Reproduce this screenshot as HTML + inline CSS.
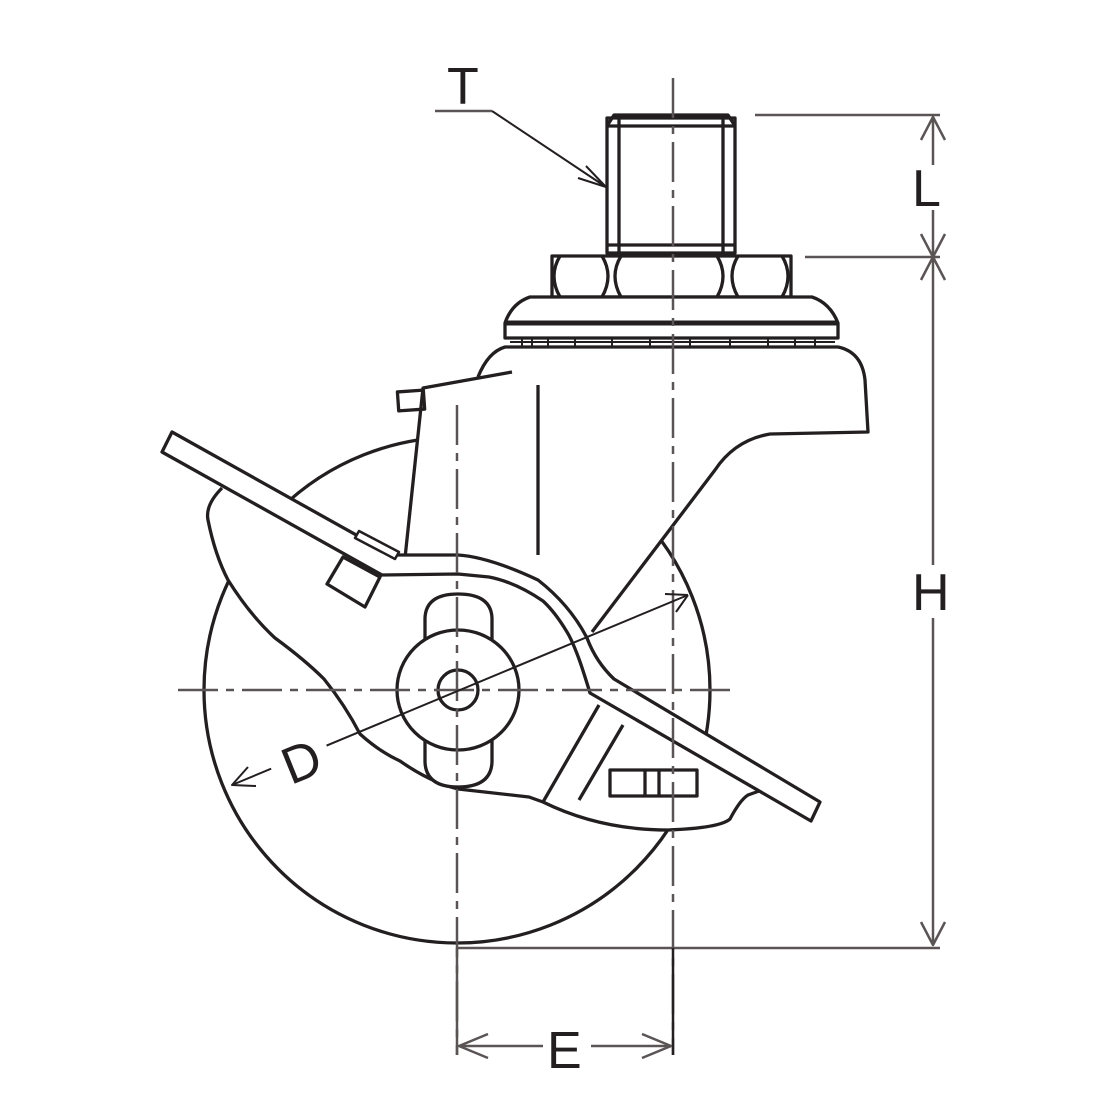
<!DOCTYPE html>
<html><head><style>html,body{margin:0;padding:0;background:#fff}svg{display:block}</style></head>
<body>
<svg width="1111" height="1111" viewBox="0 0 1111 1111" xmlns="http://www.w3.org/2000/svg" fill="none" stroke="#231f20" stroke-width="3.3" stroke-linejoin="round">
<!-- wheel -->
<circle cx="457" cy="690" r="253" fill="#fff"/>
<!-- body -->
<path d="M405,558 L423,388 L512,372 M478,377 Q488,352 505,347 L838,347 Q862,352 865,380 L868,432 L770,434 Q735,440 715,470 L592,632 L560,640 L405,600 Z" fill="#fff" stroke="none"/>
<path d="M405,558 L423,388 L512,372 M478,377 Q488,352 505,347 L838,347 Q862,352 865,380 L868,432 L770,434 Q735,440 715,470 L592,632"/>
<rect x="398" y="391" width="26" height="19" transform="rotate(-4 411 400)"/>
<line x1="538" y1="385" x2="538" y2="555"/>
<!-- fork -->
<path d="M222,488 Q205,505 208,520 Q215,555 228,580 Q250,615 275,638 Q305,660 324,679 Q345,705 360,734 Q380,752 400,761 Q430,782 458,789 L529,797 L543,802 Q600,830 668,830 Q720,828 730,819 Q740,800 748,795 L770,785 L600,680 L400,570 Z" fill="#fff" stroke="none"/>
<path d="M222,488 Q205,505 208,520 Q215,555 228,580 Q250,615 275,638 Q305,660 324,679 Q345,705 360,734 Q380,752 400,761 Q430,782 458,789 L529,797 L543,802 Q600,830 668,830 Q720,828 730,819 Q740,800 748,795 L762,790"/>
<line x1="543" y1="802" x2="599" y2="705"/>
<line x1="579" y1="800" x2="623" y2="725"/>
<rect x="610" y="770" width="87" height="26"/>
<line x1="645" y1="770" x2="645" y2="796"/><line x1="659" y1="770" x2="659" y2="796"/>
<!-- hub -->
<path d="M425,640 L425,618 Q426,594 458,594 Q491,594 492,618 L492,640 Z" fill="#fff"/>
<path d="M425,740 L425,762 Q426,787 458,787 Q491,787 492,762 L492,740 Z" fill="#fff"/>
<ellipse cx="458" cy="690" rx="61" ry="60" fill="#fff"/>
<ellipse cx="458" cy="690" rx="20" ry="20"/>
<!-- brake bar -->
<path d="M172,432 L392,555 L458,555 Q489,557 538,580 Q570,605 587,638 Q596,662 614,679 L820,802 L811,821 L590,693 Q583,670 579,659 Q572,640 567,632 Q555,612 543,601 Q515,582 489,577 L458,574 L382,575 L162,452 Z" fill="#fff"/>
<path d="M343,557 L380,577 L365,607 L327,584 Z" fill="#fff"/>
<path d="M359,531 L399,552 L395,559 L355,538 Z" fill="#fff" stroke-width="2.5"/>
<!-- stem -->
<rect x="607" y="118" width="128" height="135" fill="#fff"/>
<line x1="619" y1="118" x2="619" y2="253"/><line x1="723" y1="118" x2="723" y2="253"/>
<line x1="607" y1="126" x2="735" y2="126"/><line x1="607" y1="245" x2="735" y2="245"/>
<path d="M607,126 L614,115 L728,115 L735,126"/>
<!-- nuts -->
<rect x="552" y="256" width="239" height="41" fill="#fff"/>
<path d="M560,256 Q548,276 560,297 M602,256 Q614,276 602,297 M621,256 Q609,276 621,297 M717,256 Q729,276 717,297 M738,256 Q726,276 738,297 M782,256 Q794,276 782,297"/>
<!-- flange -->
<path d="M505,338 L505,323 Q512,303 530,297 L812,297 Q830,303 838,323 L838,338 Z" fill="#fff"/>
<line x1="505" y1="323" x2="838" y2="323" stroke-width="5"/>
<line x1="510" y1="342" x2="835" y2="342" stroke-width="2"/>
<path d="M522,338 V347 M532,338 V347 M548,338 V347 M575,338 V347 M612,338 V347 M650,338 V347 M690,338 V347 M730,338 V347 M768,338 V347 M795,338 V347 M815,338 V347" stroke-width="2"/>
<!-- centerlines -->
<g stroke="#5a5455" stroke-width="2.5" stroke-dasharray="40,8,8,8">
<line x1="457" y1="405" x2="457" y2="1055"/>
<line x1="673" y1="78" x2="673" y2="1055"/>
<line x1="178" y1="690" x2="738" y2="690"/>
</g>
<!-- dimension lines -->
<g stroke="#5a5455" stroke-width="2.5">
<line x1="755" y1="115" x2="940" y2="115"/>
<line x1="805" y1="257" x2="940" y2="257"/>
<line x1="457" y1="948" x2="940" y2="948"/>
<line x1="933" y1="117" x2="933" y2="165"/><line x1="933" y1="210" x2="933" y2="565"/><line x1="933" y1="618" x2="933" y2="945"/>
<path d="M921,140 L933,117 L945,140 M921,234 L933,257 L945,234 M921,280 L933,257 L945,280 M921,922 L933,945 L945,922"/>
<line x1="457" y1="948" x2="457" y2="1055"/>
<line x1="673" y1="948" x2="673" y2="1055" stroke="#231f20"/>
<line x1="459" y1="1046" x2="543" y2="1046"/><line x1="591" y1="1046" x2="671" y2="1046"/>
<path d="M488,1034 L459,1046 L488,1058 M642,1034 L671,1046 L642,1058"/>
<line x1="435" y1="111" x2="492" y2="111"/>
</g>
<path d="M492,111 L606,187 M586,166 L606,187 M578,178 L606,187" stroke-width="2"/>
<path d="M232,785 L688,595 M248,767 L232,785 L256,786 M665,594 L688,595 M676,612 L688,595" stroke-width="2"/>
<rect x="270" y="735" width="60" height="50" fill="#fff" stroke="none" transform="rotate(-22 300 760)"/>
<g fill="#231f20" stroke="none" font-family="Liberation Sans, sans-serif" font-size="52">
<text x="447" y="104">T</text>
<text x="912" y="206">L</text>
<text x="912" y="610">H</text>
<text x="547" y="1068">E</text>
<text x="282" y="780" transform="rotate(-22 300 760)">D</text>
</g>
</svg>
</body></html>
